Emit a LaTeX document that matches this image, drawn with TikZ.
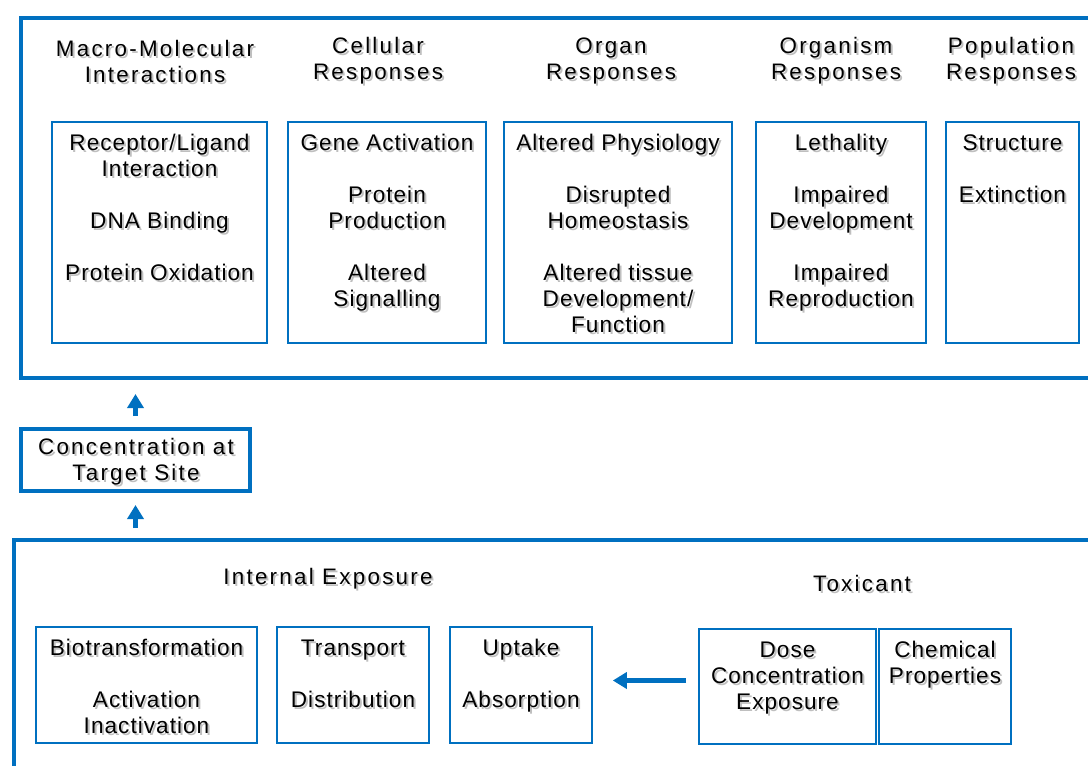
\documentclass[tikz,border=0pt]{standalone}
\usepackage{fontspec}
\setmainfont{Liberation Sans}
\newfontfamily\hdrfont[LetterSpace=10]{Liberation Sans}
\newfontfamily\bodyfont[LetterSpace=4.5]{Liberation Sans}
\usetikzlibrary{positioning,fit,arrows.meta}
\definecolor{tblue}{RGB}{0,112,192}
\tikzset{
  frame/.style={draw=tblue, line width=2pt, inner sep=0pt},
  cell/.style={draw=tblue, line width=0.8pt, inner sep=0pt},
  hdr/.style={font=\fontsize{11.2}{13}\selectfont\hdrfont, align=center, inner sep=0pt},
  item/.style={font=\fontsize{11.3}{13}\selectfont\bodyfont, align=center, inner sep=0pt, anchor=north, yshift=-5.5pt},
  flow/.style={draw=tblue, line width=2.25pt, -{Triangle[width=8pt,length=7pt]}},
}
% text with a grey drop shadow
\newcommand{\shtext}[4]{%
  \node[#1, text=gray!50, xshift=1pt, yshift=-1pt] (#2-sh) at #3 {#4};
  \node[#1] (#2) at #3 {#4};}

\begin{document}
\begin{tikzpicture}[x=0.5pt,y=-0.5pt]
\useasboundingbox (0,0) rectangle (1088,766);
\clip (0,0) rectangle (1088,766);

% effects
\node[frame, fit={(21,18) (1110,378)}] (effects) {};
\shtext{hdr}{hmacro}{(155,61)}{Macro-Molecular\\Interactions}
\shtext{hdr}{hcell}{(378,61)}{Cellular\\Responses}
\shtext{hdr}{horgan}{(611,61)}{Organ\\Responses}
\shtext{hdr}{horganism}{(836,61)}{Organism\\Responses}
\shtext{hdr}{hpop}{(1011,61)}{Population\\Responses}

\node[cell, fit={(52,122) (267,343)}] (macro) {};
\node[cell, fit={(288,122) (486,343)}] (cell) {};
\node[cell, fit={(504,122) (732,343)}] (organ) {};
\node[cell, fit={(756,122) (926,343)}] (organism) {};
\node[cell, fit={(946,122) (1079,343)}] (pop) {};

\shtext{item}{tmacro}{(macro.north)}{\strut Receptor/Ligand\\Interaction\\[13pt]DNA Binding\\[13pt]Protein Oxidation}
\shtext{item}{tcell}{(cell.north)}{\strut Gene Activation\\[13pt]Protein\\Production\\[13pt]Altered\\Signalling}
\shtext{item}{torgan}{(organ.north)}{\strut Altered Physiology\\[13pt]Disrupted\\Homeostasis\\[13pt]Altered tissue\\Development/\\Function}
\shtext{item}{torganism}{(organism.north)}{\strut Lethality\\[13pt]Impaired\\Development\\[13pt]Impaired\\Reproduction}
\shtext{item}{tpop}{(pop.north)}{\strut Structure\\[13pt]Extinction}

% target site
\node[frame, fit={(21,429) (250,491)}] (conc) {};
\shtext{hdr}{tconc}{(136,462)}{Concentration at\\Target Site}

% exposure
\node[frame, fit={(14,540) (1110,790)}] (exposure) {};
\shtext{hdr}{hint}{(328,579)}{Internal Exposure}
\shtext{hdr}{htox}{(862,583)}{Toxicant}

\node[cell, fit={(36,627) (257,743)}] (bio) {};
\node[cell, fit={(277,627) (429,743)}] (trans) {};
\node[cell, fit={(450,627) (592,743)}] (upt) {};
\node[cell, fit={(699,629) (876,744)}] (dose) {};
\node[cell, fit={(879,629) (1011,744)}] (chem) {};

\shtext{item}{tbio}{(bio.north)}{\strut Biotransformation\\[13pt]Activation\\Inactivation}
\shtext{item}{ttrans}{(trans.north)}{\strut Transport\\[13pt]Distribution}
\shtext{item}{tupt}{(upt.north)}{\strut Uptake\\[13pt]Absorption}
\shtext{item}{tdose}{(dose.north)}{\strut Dose\\Concentration\\Exposure}
\shtext{item}{tchem}{(chem.north)}{\strut Chemical\\Properties}

% arrows
\draw[flow, shorten <=5.5pt, shorten >=7pt] (conc.north) -- (conc.north |- effects.south);
\draw[flow, shorten <=5pt, shorten >=6pt] (conc.south |- exposure.north) -- (conc.south);
\draw[flow, shorten <=6pt, shorten >=10pt] ([yshift=3pt]dose.west) -- ([yshift=3pt]dose.west -| upt.east);
\end{tikzpicture}
\end{document}
